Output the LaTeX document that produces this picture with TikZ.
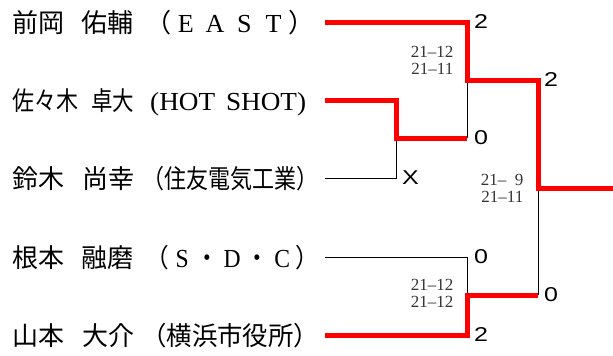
\documentclass[tikz,border=0pt]{standalone}
\usepackage{fontspec}
\usepackage{graphicx}
\setmainfont{Liberation Serif}
\newfontfamily\jpfont{Noto Sans CJK JP}
\newfontfamily\numfont{Liberation Sans}
\usetikzlibrary{positioning}
\definecolor{winred}{HTML}{FF0000}
\definecolor{scoregray}{HTML}{333333}
\newcommand\fitto[2]{\resizebox{#1}{\height}{#2}}
\newcommand\zenkaku[1]{\makebox[1.12em]{#1}}
\newcommand\wide[1]{\scalebox{1.25}[1]{#1}}

\begin{document}
\begin{tikzpicture}[x=1pt,y=-1pt,
  player/.style={anchor=base west,inner sep=0pt,font=\jpfont\fontsize{26}{26}\selectfont},
  team/.style={anchor=base west,inner sep=0pt,font=\fontsize{26}{26}\selectfont},
  won/.style={draw=winred,line width=5pt},
  lost/.style={draw=black,line width=0.8pt},
  result/.style={inner sep=0pt,font=\numfont\fontsize{20}{20}\selectfont},
  games/.style={inner sep=0pt,align=right,text=scoregray,font=\fontsize{17}{17}\selectfont}]
  \useasboundingbox (0,0) rectangle (613,356);
  % players
  \node[player] (fam1) at (12,32) {前岡};
  \node[player] (giv1) at (81,32) {佑輔};
  \node[team] (team1) at (145,32) {\fitto{169pt}{{\jpfont （}\zenkaku{E}\zenkaku{A}\zenkaku{S}\zenkaku{T}{\jpfont ）}}};
  \node[player] (fam2) at (12,110) {\fitto{66pt}{佐々木}};
  \node[player] (giv2) at (91,110) {\fitto{43pt}{卓大}};
  \node[team] (team2) at (150,110) {\fitto{156pt}{(HOT\hspace{.4em}SHOT)}};
  \node[player] (fam3) at (12,188) {鈴木};
  \node[player] (giv3) at (82,188) {尚幸};
  \node[team] (team3) at (142,188) {\fitto{176pt}{\jpfont （住友電気工業）}};
  \node[player] (fam4) at (12,267) {根本};
  \node[player] (giv4) at (81,267) {融磨};
  \node[team] (team4) at (145,267) {\fitto{174pt}{{\jpfont （}\zenkaku{S}{\jpfont ・}\zenkaku{D}{\jpfont ・}\zenkaku{C}{\jpfont ）}}};
  \node[player] (fam5) at (12,345) {山本};
  \node[player] (giv5) at (82,345) {大介};
  \node[team] (team5) at (141,345) {\fitto{178pt}{\jpfont （横浜市役所）}};
  % bracket points
  \coordinate (s1) at (325,22);
  \coordinate (s2) at (325,100);
  \coordinate (s3) at (325,178);
  \coordinate (s4) at (325,257);
  \coordinate (s5) at (325,335);
  \coordinate (a) at (396,138);
  \coordinate (a3) at (396,178);
  \coordinate (b1) at (467,22);
  \coordinate (b) at (467,80);
  \coordinate (b2) at (467,138);
  \coordinate (c1) at (467,257);
  \coordinate (c) at (467,295);
  \coordinate (c2) at (467,335);
  \coordinate (f1) at (538,80);
  \coordinate (f) at (538,188);
  \coordinate (f2) at (538,295);
  \coordinate (champ) at (613,188);
  % losers' lines
  \draw[lost] (s3) -- (a3) -- (a);
  \draw[lost] (b) -- (b2);
  \draw[lost] (s4) -- (c1) -- (c);
  \draw[lost] (f) -- (f2);
  % winners' lines
  \draw[won] (s1) -- (b1) -- (b) -- (f1) -- (f) -- (champ);
  \draw[won] (s2) -| (a) -- (b2);
  \draw[won] (s5) -- (c2) -- (c) -- (f2);
  % results
  \node[result,right=7pt of b1] (r1) {\wide{2}};
  \node[result,right=7pt of b2] (r2) {\wide{0}};
  \node[result,right=6pt of a3] (r3) {\wide{X}};
  \node[result,right=7pt of c1] (r4) {\wide{0}};
  \node[result,right=7pt of c2] (r5) {\wide{2}};
  \node[result,right=6pt of f1] (rB) {\wide{2}};
  \node[result,right=6pt of f2] (rC) {\wide{0}};
  % game scores
  \node[games] (gB) at (432,60) {21–12\\21–11};
  \node[games] (gF) at (502,188) {21–\phantom{1}9\\21–11};
  \node[games] (gC) at (432,293) {21–12\\21–12};
\end{tikzpicture}
\end{document}
